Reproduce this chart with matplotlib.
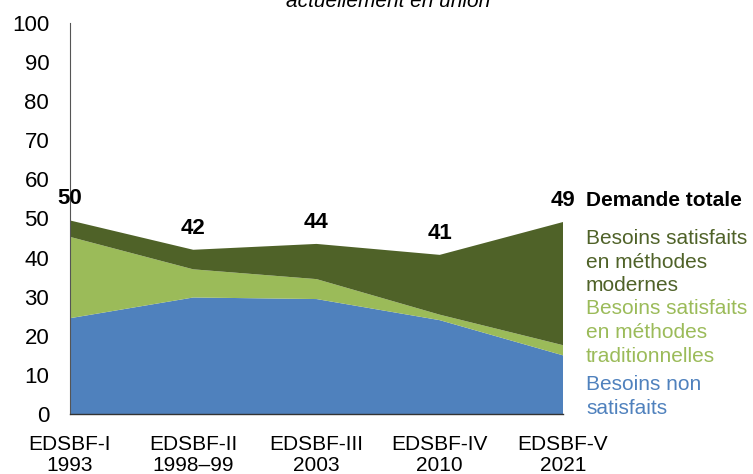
import matplotlib.pyplot as plt
import numpy as np

plt.rcParams['font.family'] = ['Liberation Sans', 'DejaVu Sans']

surveys = ['EDSBF-I\n1993', 'EDSBF-II\n1998\u201399', 'EDSBF-III\n2003',
           'EDSBF-IV\n2010', 'EDSBF-V\n2021']
unmet = [24.5, 29.8, 29.4, 24.0, 15.0]
traditional = [20.8, 7.2, 5.1, 1.4, 2.6]
modern = [4.2, 5.0, 9.0, 15.3, 31.5]
total_labels = [50, 42, 44, 41, 49]

c_blue = '#4F81BD'
c_light = '#9BBB59'
c_dark = '#4F6228'

fig = plt.figure(figsize=(7.53, 4.74), dpi=100)
ax = fig.add_axes([70 / 753, 1 - 414 / 474, (563 - 70) / 753, (414 - 23) / 474])

x = np.arange(len(surveys))
ax.stackplot(x, unmet, traditional, modern, colors=[c_blue, c_light, c_dark],
             linewidth=0)
totals = np.array(unmet) + np.array(traditional) + np.array(modern)
for xi, t, lab in zip(x, totals, total_labels):
    ax.annotate(str(lab), (xi, t), xytext=(0, 8), textcoords='offset points',
                ha='center', va='bottom', fontsize=16, fontweight='bold')

ax.set_xlim(0, 4)
ax.set_ylim(0, 100)
ax.set_yticks(range(0, 101, 10))
ax.set_xticks(x)
ax.set_xticklabels(surveys, fontsize=15, linespacing=1.17)
ax.tick_params(axis='y', length=0, pad=15, labelsize=16)
ax.tick_params(axis='x', length=0, pad=15)
for s in ['top', 'right']:
    ax.spines[s].set_visible(False)
ax.spines['left'].set_color('#555555')
ax.spines['bottom'].set_color('#333333')
ax.spines['left'].set_linewidth(0.8)
ax.spines['bottom'].set_linewidth(1.0)
ax.patch.set_visible(False)

# legend-like texts on the right
fig.text(586 / 753, 1 - 201 / 474, 'Demande totale', fontsize=15,
         fontweight='bold', va='center', ha='left')
fig.text(586 / 753, 1 - 229 / 474, 'Besoins satisfaits\nen méthodes\nmodernes',
         fontsize=15, color=c_dark, va='top', ha='left', linespacing=1.3)
fig.text(586 / 753, 1 - 299 / 474, 'Besoins satisfaits\nen méthodes\ntraditionnelles',
         fontsize=15, color=c_light, va='top', ha='left', linespacing=1.34)
fig.text(586 / 753, 1 - 375 / 474, 'Besoins non\nsatisfaits',
         fontsize=15, color=c_blue, va='top', ha='left', linespacing=1.34)

fig.text(388 / 753, 1 - 7 / 474, 'actuellement en union', fontsize=15,
         style='italic', ha='center', va='baseline')

fig.savefig('out.png', dpi=100)
